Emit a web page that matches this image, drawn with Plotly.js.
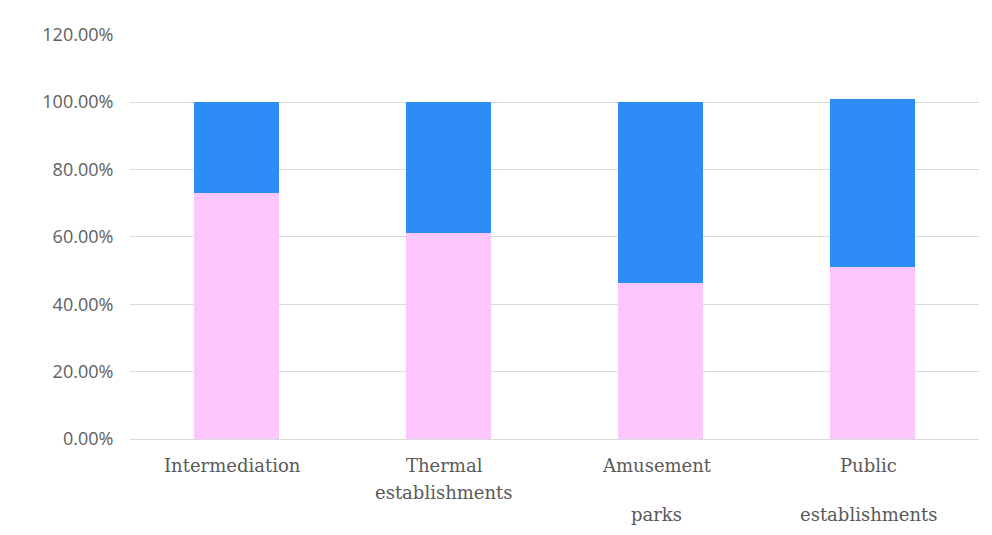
<!DOCTYPE html>
<html>
<head>
<meta charset="utf-8">
<script src="https://cdn.plot.ly/plotly-3.0.1.min.js"></script>
<style>
  html, body { margin: 0; padding: 0; background: #ffffff; }
  #chart { width: 992px; height: 535px; }
</style>
</head>
<body>
<div id="chart"></div>
<script>
// Share of each activity, stacked to ~100%
const categories = ["Intermediation", "Thermal establishments", "Amusement parks", "Public establishments"];
const lowerShare = [72.9, 61.0, 46.2, 51.1];   // pink segment
const upperShare = [27.1, 39.0, 53.8, 49.7];   // blue segment
const yTicks = [0, 20, 40, 60, 80, 100, 120];

// Category labels split into their printed lines
const labelLines = [
  ["Intermediation"],
  ["Thermal", "establishments"],
  ["Amusement", "parks"],
  ["Public", "establishments"]
];
// Offsets (px below the axis) of the first and second label line per category
const firstLineDrop = 26;
const secondLineDrop = [0, 53, 75, 75];

const traces = [
  {
    type: "bar",
    x: categories,
    y: lowerShare,
    marker: { color: "#fdc6fd" },
    hoverinfo: "x+y"
  },
  {
    type: "bar",
    x: categories,
    y: upperShare,
    marker: { color: "#2d8cf6" },
    hoverinfo: "x+y"
  }
];

const annotations = [];
labelLines.forEach((lines, i) => {
  lines.forEach((txt, j) => {
    annotations.push({
      xref: "x", yref: "paper",
      x: categories[i], y: 0,
      yanchor: "middle", xanchor: "center",
      xshift: -4,
      yshift: -(j === 0 ? firstLineDrop : secondLineDrop[i]),
      text: txt,
      showarrow: false,
      font: { family: "DejaVu Serif, serif", size: 18, color: "#595959" }
    });
  });
});

const layout = {
  width: 992,
  height: 535,
  margin: { l: 130, r: 13, t: 34, b: 96 },
  paper_bgcolor: "#ffffff",
  plot_bgcolor: "#ffffff",
  barmode: "stack",
  bargap: 0.6,
  showlegend: false,
  xaxis: {
    type: "category",
    showticklabels: false,
    showgrid: false,
    zeroline: false,
    showline: false,
    ticks: ""
  },
  yaxis: {
    range: [0, 120.2],
    tickvals: yTicks,
    ticktext: yTicks.map(v => v.toFixed(2) + "%"),
    showgrid: true,
    gridcolor: "#d9d9d9",
    gridwidth: 1,
    zeroline: true,
    zerolinecolor: "#d9d9d9",
    zerolinewidth: 1,
    showline: false,
    ticks: "outside",
    ticklen: 12,
    tickcolor: "rgba(0,0,0,0)",
    tickfont: { family: "Open Sans, sans-serif", size: 18, color: "#606060" }
  },
  annotations: annotations
};

Plotly.newPlot("chart", traces, layout, { displayModeBar: false, staticPlot: true });
</script>
</body>
</html>
